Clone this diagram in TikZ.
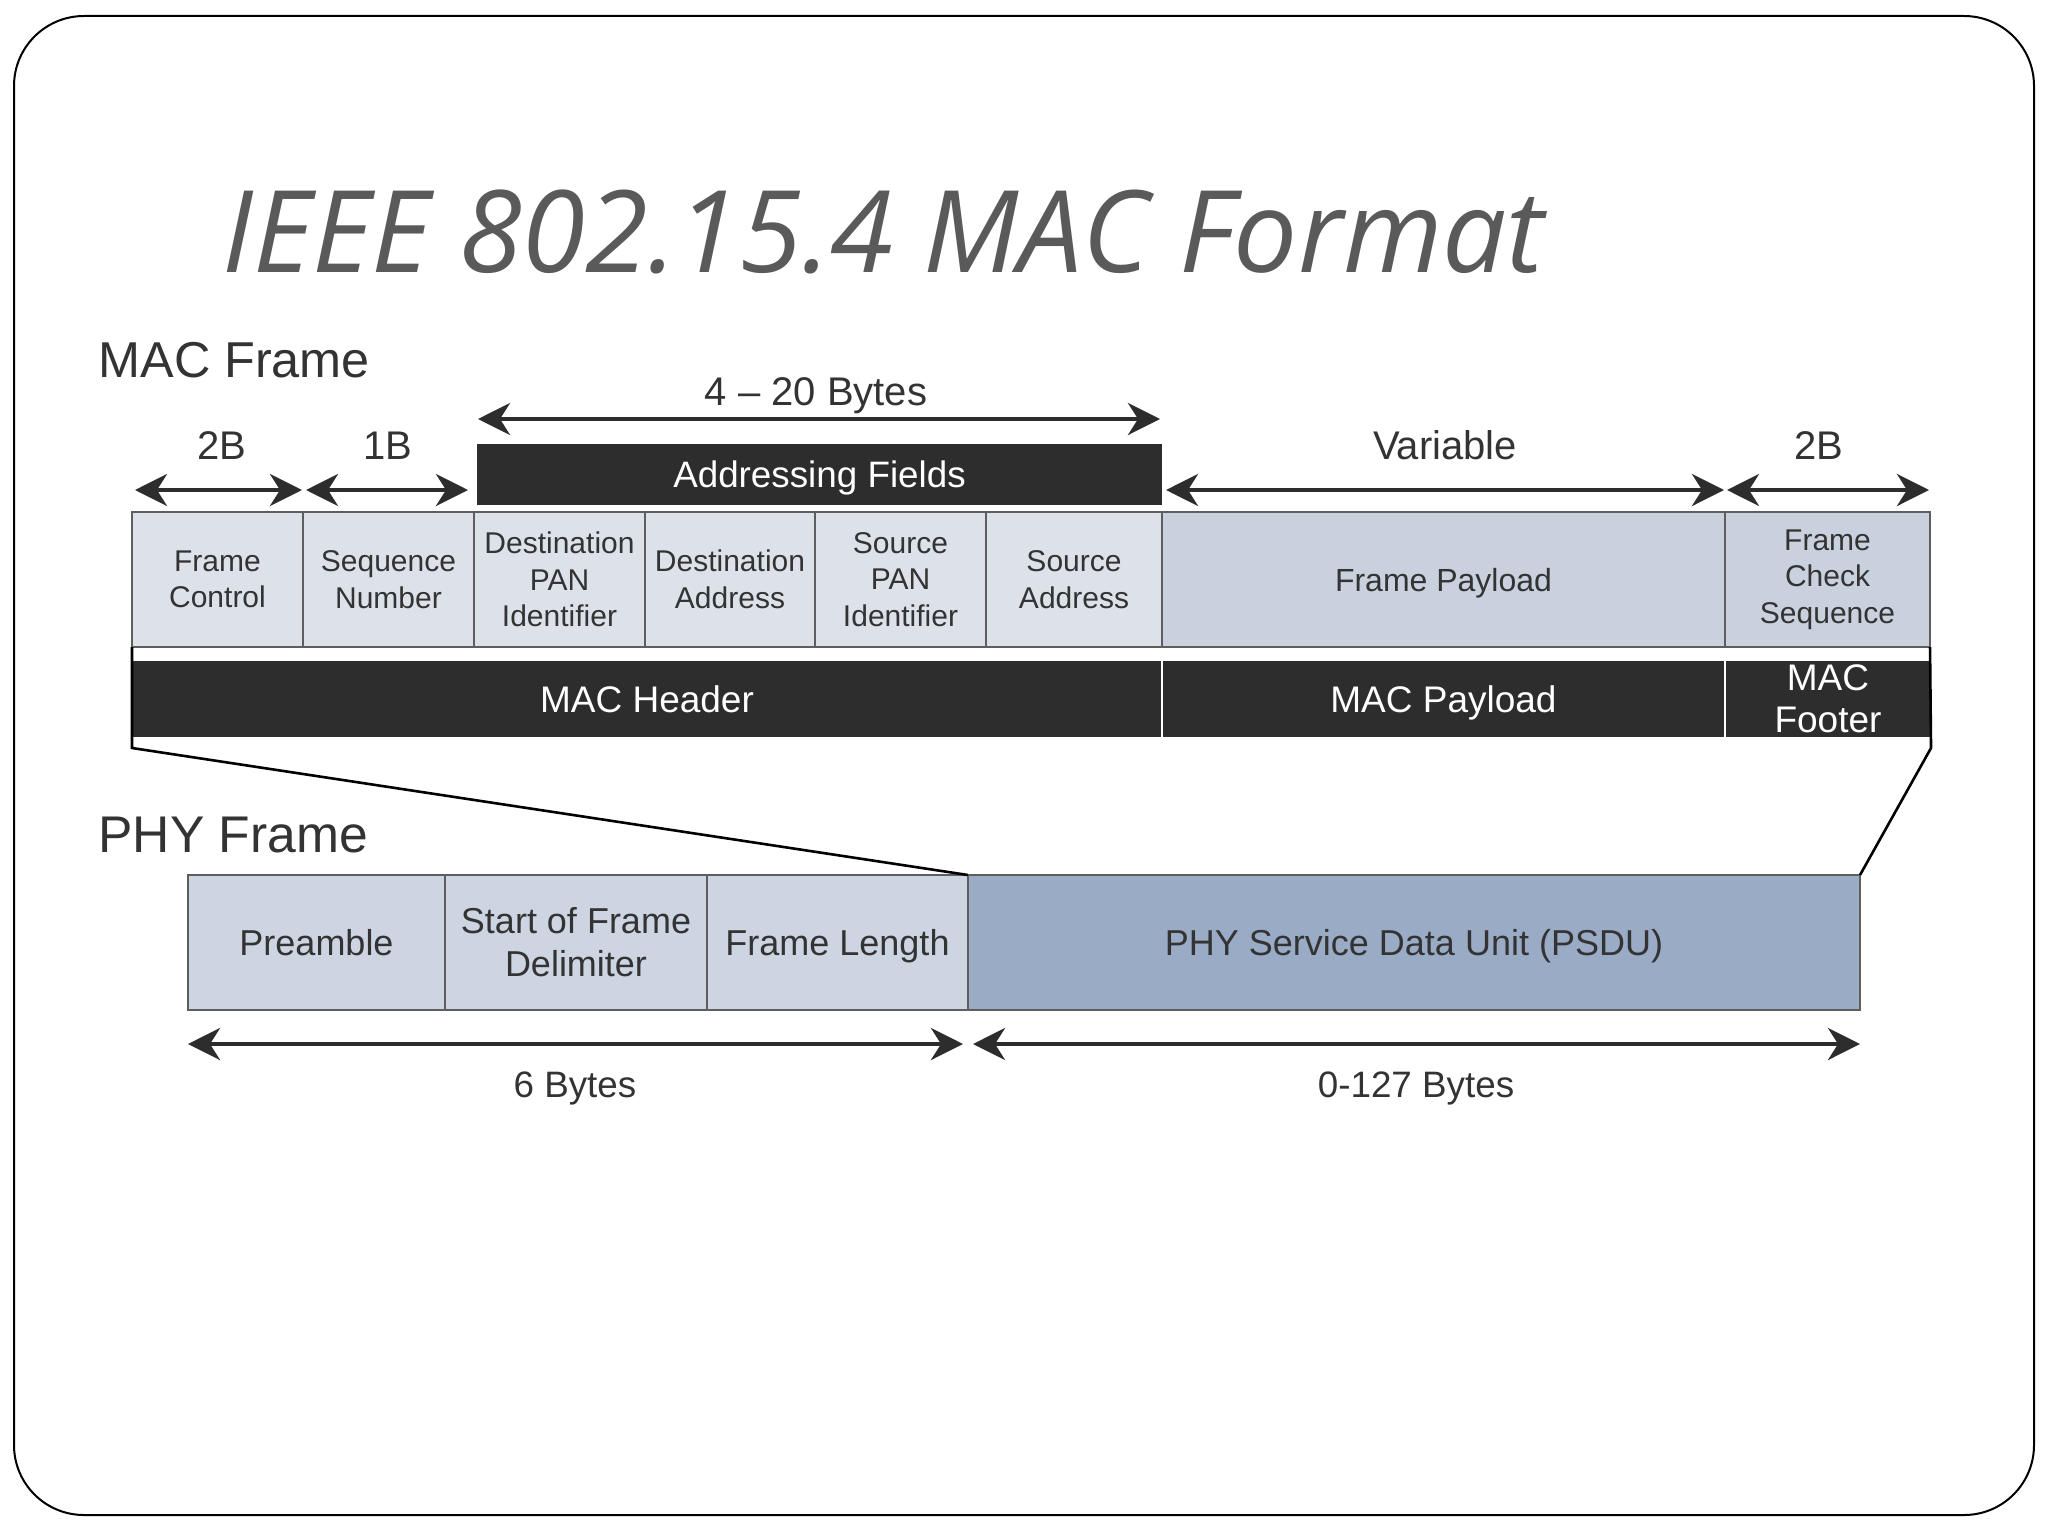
\documentclass[tikz,border=0pt]{standalone}
\usepackage{fontspec}
\setmainfont{Liberation Sans}
\newfontfamily\titlefont{Open Sans}
\usetikzlibrary{arrows.meta}
\definecolor{titlegray}{HTML}{5A5A5A}
\definecolor{txt}{HTML}{333333}
\definecolor{cellA}{HTML}{DDE2EA}
\definecolor{cellB}{HTML}{C9D1DF}
\definecolor{cellC}{HTML}{CDD5E3}
\definecolor{psduc}{HTML}{9AABC6}
\definecolor{blk}{HTML}{2D2D2D}
\definecolor{edge}{HTML}{5E5E5E}
\tikzset{
  cell/.style={draw=edge, line width=1pt, fill=cellA, text=txt, anchor=north west,
    inner sep=0pt, outer sep=0pt, align=center, font=\fontsize{15}{18.3}\selectfont},
  blackcell/.style={draw=white, line width=1pt, fill=blk, text=white, anchor=north west,
    inner sep=0pt, outer sep=0pt, align=center, font=\fontsize{18.5}{21}\selectfont},
  phycell/.style={draw=edge, line width=1pt, fill=cellC, text=txt, anchor=north west,
    inner sep=0pt, outer sep=0pt, align=center, font=\fontsize{18}{21.5}\selectfont},
  oneline/.style={text height=#1, text depth=0pt},
  dim/.style={{Stealth[length=16pt,width=16pt,inset=5pt]}-{Stealth[length=16pt,width=16pt,inset=5pt]}, line width=2.2pt, draw=blk},
  dimlabel/.style={text=txt, font=\fontsize{20}{24}\selectfont, inner sep=0pt, text height=14.3pt, text depth=0pt},
  seclabel/.style={text=txt, anchor=base west, inner sep=0pt},
  bracket/.style={draw=black, line width=1.3pt},
}
\begin{document}
\begin{tikzpicture}[x=0.5pt, y=-0.5pt]
\useasboundingbox (0,0) rectangle (2048,1536);
\draw[line width=1pt, rounded corners=35pt, draw=black] (14,16) rectangle (2034,1515);

\node[anchor=base west, inner sep=0pt, text=titlegray, font=\titlefont\itshape\fontsize{57}{66}\selectfont] (title) at (222,272) {IEEE 802.15.4 MAC Format};

\node[seclabel, font=\fontsize{25.2}{28}\selectfont] (macl) at (98,377) {MAC Frame};
\node[seclabel, font=\fontsize{25.8}{28}\selectfont] (phyl) at (98,852) {PHY Frame};

% addressing fields bar
\node[blackcell, oneline=13.2pt, draw=blk, minimum width=683*0.5pt, minimum height=59*0.5pt, font=\fontsize{18.4}{21}\selectfont] (addr) at (478,445) {Addressing Fields};

% MAC fields
\node[cell, minimum width=171*0.5pt, minimum height=135*0.5pt] (fc) at (132,512) {Frame\\Control};
\node[cell, minimum width=171*0.5pt, minimum height=135*0.5pt] (sn) at (303,512) {Sequence\\Number};
\node[cell, minimum width=171*0.5pt, minimum height=135*0.5pt] (dpan) at (474,512) {Destination\\PAN\\Identifier};
\node[cell, minimum width=170*0.5pt, minimum height=135*0.5pt] (da) at (645,512) {Destination\\Address};
\node[cell, minimum width=171*0.5pt, minimum height=135*0.5pt] (span) at (815,512) {Source\\PAN\\Identifier};
\node[cell, minimum width=176*0.5pt, minimum height=135*0.5pt] (sa) at (986,512) {Source\\Address};
\node[cell, oneline=11.5pt, fill=cellB, minimum width=563*0.5pt, minimum height=135*0.5pt, font=\fontsize{16}{19}\selectfont] (fp) at (1162,512) {Frame Payload};
\node[cell, fill=cellB, minimum width=205*0.5pt, minimum height=135*0.5pt] (fcs) at (1725,512) {Frame\\Check\\Sequence};

% MAC black row
\node[blackcell, oneline=13.3pt, minimum width=1030*0.5pt, minimum height=78*0.5pt] (mh) at (132,660) {MAC Header};
\node[blackcell, oneline=13.3pt, minimum width=563*0.5pt, minimum height=78*0.5pt] (mp) at (1162,660) {MAC Payload};
\node[blackcell, minimum width=206*0.5pt, minimum height=78*0.5pt] (mf) at (1725,660) {MAC\\Footer};

% PHY row
\node[phycell, oneline=12.9pt, minimum width=257*0.5pt, minimum height=135*0.5pt] (pre) at (188,875) {Preamble};
\node[phycell, minimum width=262*0.5pt, minimum height=135*0.5pt] (sof) at (445,875) {Start of Frame\\Delimiter};
\node[phycell, oneline=12.9pt, minimum width=261*0.5pt, minimum height=135*0.5pt] (fl) at (707,875) {Frame Length};
\node[phycell, oneline=12.9pt, fill=psduc, minimum width=892*0.5pt, minimum height=135*0.5pt] (psdu) at (968,875) {PHY Service Data Unit (PSDU)};

% brackets
\coordinate (bl) at (132,748);
\coordinate (br) at (1931,748);
\draw[bracket] (fc.south west) -- (bl) -- (psdu.north west);
\draw[bracket] (fcs.south east) -- (br) -- (psdu.north east);

% dimension arrows
\coordinate (a1s) at (135,490); \coordinate (a1e) at (302,490);
\coordinate (a2s) at (306,490); \coordinate (a2e) at (468,490);
\coordinate (a3s) at (478,419); \coordinate (a3e) at (1160,419);
\coordinate (a4s) at (1166,490); \coordinate (a4e) at (1724,490);
\coordinate (a5s) at (1727,490); \coordinate (a5e) at (1929,490);
\coordinate (a6s) at (188,1044); \coordinate (a6e) at (963,1044);
\coordinate (a7s) at (973,1044); \coordinate (a7e) at (1860,1044);
\draw[dim] (a1s) -- (a1e);
\draw[dim] (a2s) -- (a2e);
\draw[dim] (a3s) -- (a3e);
\draw[dim] (a4s) -- (a4e);
\draw[dim] (a5s) -- (a5e);
\draw[dim] (a6s) -- (a6e);
\draw[dim] (a7s) -- (a7e);

\node[dimlabel] (l1) at (222,445) {2B};
\node[dimlabel] (l2) at (388,445) {1B};
\node[dimlabel] (l3) at (816,391) {4 – 20 Bytes};
\node[dimlabel] (l4) at (1445,445) {Variable};
\node[dimlabel] (l5) at (1819,445) {2B};
\node[dimlabel, text height=13.2pt, font=\fontsize{18.4}{22}\selectfont] (l6) at (575,1084) {6 Bytes};
\node[dimlabel, text height=13.2pt, font=\fontsize{18.4}{22}\selectfont] (l7) at (1416,1084) {0-127 Bytes};
\end{tikzpicture}
\end{document}
